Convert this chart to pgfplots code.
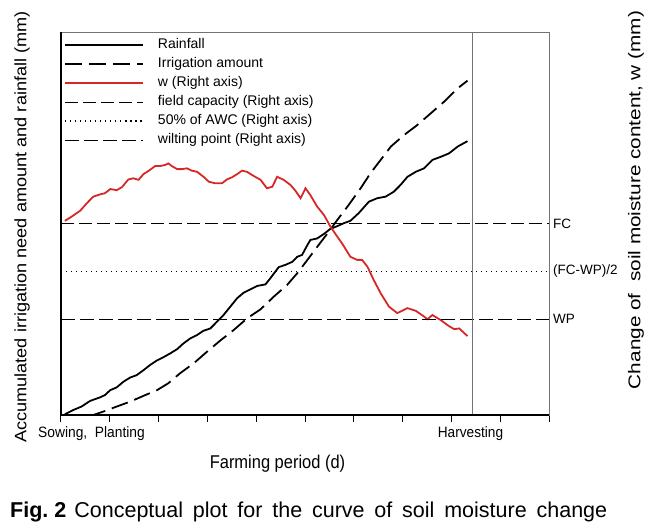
\documentclass[border=0pt]{standalone}
\usepackage{pgfplots}
\pgfplotsset{compat=1.18}
\usepackage{fontspec}
\setmainfont{Liberation Sans}
\definecolor{wred}{RGB}{215,40,40}
\definecolor{framegray}{RGB}{115,115,115}
\begin{document}
\begin{tikzpicture}[x=1pt,y=1pt]
\useasboundingbox (-61,-112) rectangle (600,415);
\begin{axis}[
  at={(0,0)}, anchor=south west,
  scale only axis, width=488pt, height=383pt,
  xmin=0, xmax=10, ymin=0, ymax=100,
  axis line style={framegray, line width=0.8pt},
  xtick={0,1,...,10}, xticklabels={}, ytick=\empty,
  tick align=outside, xtick pos=lower, major tick length=7pt,
  tick style={black, line width=1pt},
  clip=false,
  legend cell align=left,
  legend image code/.code={\draw[#1] (0pt,0pt) -- (78pt,0pt);},
  legend style={at={(0,1)}, anchor=north west, xshift=3pt, yshift=-6pt,
    draw=none, fill=none, inner sep=0pt,
    font=\fontsize{14}{16}\selectfont,
    column sep=14pt, row sep=5.5pt,
    nodes={inner sep=0pt, text height=10.5pt, text depth=3pt}},
]
% Rainfall
\addplot[black, line width=1.8pt] coordinates {
(0.08,0.2) (0.25,1.3) (0.42,2.2) (0.60,3.7) (0.80,4.6) (0.90,5.2) (1.01,6.5) (1.14,7.2) (1.28,8.7) (1.42,9.8) (1.55,10.4) (1.69,11.7) (1.83,13.1) (1.96,14.2) (2.10,15.1) (2.24,16.1) (2.38,17.2) (2.51,18.7) (2.65,20.0) (2.79,20.9) (2.92,22.0) (3.06,22.6) (3.20,24.4) (3.33,26.1) (3.47,28.3) (3.61,30.5) (3.74,31.9) (3.88,32.8) (4.02,33.7) (4.19,34.1) (4.29,35.7) (4.39,37.4) (4.46,38.6) (4.60,39.2) (4.74,40.0) (4.84,41.3) (4.94,41.8) (5.05,44.4) (5.11,45.7) (5.25,46.1) (5.39,47.3) (5.52,48.6) (5.66,49.3) (5.80,50.1) (5.93,50.7) (6.10,52.7) (6.31,55.7) (6.48,56.6) (6.65,57.0) (6.82,58.3) (6.96,60.1) (7.10,62.2) (7.27,63.5) (7.44,64.4) (7.61,66.6) (7.78,67.4) (7.95,68.3) (8.13,70.1) (8.33,71.5)
};
\addlegendentry{Rainfall}
% Irrigation
\addplot[black, line width=1.8pt, dash pattern=on 17pt off 7pt] coordinates {
(0.08,0) (0.46,0) (0.66,0) (0.87,0.9) (1.14,2.2) (1.42,3.5) (1.69,5.0) (1.97,6.5) (2.20,8.3) (2.44,10.9) (2.72,13.5) (2.99,16.5) (3.26,19.4) (3.54,22.2) (3.81,25.2) (4.09,27.6) (4.36,30.9) (4.63,33.9) (4.84,37.0) (5.05,40.5) (5.25,43.9) (5.46,47.4) (5.66,50.9) (5.87,54.4) (6.14,59.2) (6.34,63.1) (6.55,66.6) (6.76,70.1) (7.03,73.1) (7.30,75.7) (7.58,78.8) (7.85,81.8) (8.13,85.3) (8.33,87.3)
};
\addlegendentry{Irrigation amount}
% w
\addplot[wred, line width=1.8pt] coordinates {
(0.08,50.7) (0.22,51.8) (0.39,53.3) (0.53,55.3) (0.66,57.0) (0.80,57.6) (0.90,57.9) (1.01,59.0) (1.14,58.7) (1.25,59.5) (1.38,61.5) (1.48,61.8) (1.59,61.4) (1.69,62.9) (1.79,63.7) (1.93,65.0) (2.03,65.0) (2.14,65.3) (2.20,65.7) (2.27,65.0) (2.38,64.2) (2.48,64.2) (2.58,64.4) (2.68,63.8) (2.79,63.5) (2.92,62.2) (3.03,60.9) (3.16,60.5) (3.30,60.5) (3.40,61.5) (3.51,62.1) (3.61,62.9) (3.71,63.8) (3.81,63.5) (3.95,62.4) (4.09,61.4) (4.22,59.2) (4.33,59.6) (4.43,62.2) (4.56,61.4) (4.70,60.1) (4.80,58.6) (4.91,56.6) (5.01,59.2) (5.11,57.4) (5.25,54.4) (5.39,52.2) (5.52,49.2) (5.66,46.6) (5.76,44.8) (5.93,41.3) (6.07,40.5) (6.17,40.5) (6.28,38.7) (6.41,35.2) (6.55,31.8) (6.72,28.3) (6.89,26.6) (7.10,27.9) (7.27,27.2) (7.44,25.7) (7.51,25.0) (7.61,26.1) (7.78,24.8) (7.95,23.2) (8.06,22.4) (8.16,22.6) (8.33,20.6)
};
\addlegendentry{w (Right axis)}
% FC
\addplot[black, line width=0.8pt, dash pattern=on 13pt off 5pt] coordinates {(0,50) (10,50)};
\addlegendentry{field capacity (Right axis)}
% 50% AWC
\addplot[black, line width=1.5pt, dash pattern=on 1.4pt off 3.6pt] coordinates {(0,37.5) (10,37.5)};
\addlegendentry{50\% of AWC (Right axis)}
% WP
\addplot[black, line width=0.8pt, dash pattern=on 14pt off 5pt] coordinates {(0,25) (10,25)};
\addlegendentry{wilting point (Right axis)}
% harvest line
\addplot[framegray, line width=0.8pt, forget plot] coordinates {(8.43,0) (8.43,100)};
\draw[black, line width=1.2pt] (rel axis cs:0,1) -- (rel axis cs:0,0) -- (rel axis cs:1,0);
\node[anchor=west, inner sep=0pt, xshift=4pt, font=\fontsize{13.5}{15}\selectfont] at (axis cs:10,50) {FC};
\node[anchor=west, inner sep=0pt, xshift=4pt, font=\fontsize{13.5}{15}\selectfont] at (axis cs:10,37.5) {(FC-WP)/2};
\node[anchor=west, inner sep=0pt, xshift=4pt, font=\fontsize{13.5}{15}\selectfont] at (axis cs:10,25) {WP};
\end{axis}
% tick labels and axis titles
\node[anchor=base west, inner sep=0pt, font=\fontsize{15}{17}\selectfont] at (-23,-22.7) {\scalebox{0.92}[1]{Sowing,\ \ Planting}};
\node[anchor=base, inner sep=0pt, font=\fontsize{15}{17}\selectfont] at (409.5,-22.7) {\scalebox{0.91}[1]{Harvesting}};
\node[anchor=base, inner sep=0pt, font=\fontsize{18.5}{20}\selectfont] at (216.5,-53.3) {\scalebox{0.89}[1]{Farming period (d)}};
\node[rotate=90, inner sep=0pt, font=\fontsize{16.5}{18}\selectfont] at (-39,188) {\scalebox{1.10}[1]{Accumulated irrigation need amount and rainfall (mm)}};
\node[rotate=90, inner sep=0pt, font=\fontsize{17}{19}\selectfont] at (575,215) {\scalebox{1.22}[1]{Change of\ \ soil moisture content, w (mm)}};
\node[anchor=base west, inner sep=0pt, font=\fontsize{21.5}{23}\selectfont] at (-51,-102.3) {\frenchspacing\makebox[597pt][s]{\textbf{Fig.}\kern6pt\textbf{2}\kern8pt Conceptual plot for the curve of soil moisture change}};
\end{tikzpicture}
\end{document}
